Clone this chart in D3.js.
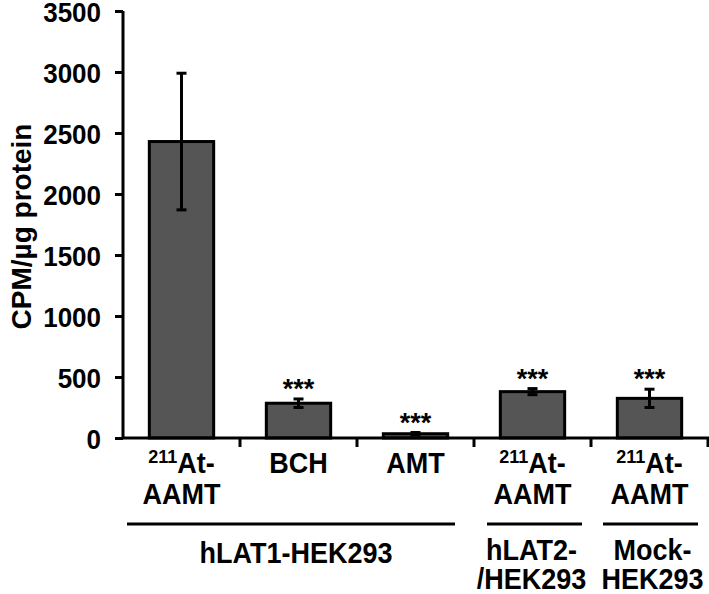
<!DOCTYPE html>
<html>
<head>
<meta charset="utf-8">
<script src="https://cdn.jsdelivr.net/npm/d3@7"></script>
<style>
  html, body { margin: 0; padding: 0; background: #fff; }
  svg text { font-family: "Liberation Sans", Arial, sans-serif; font-weight: bold; fill: #000; }
</style>
</head>
<body>
<svg id="chart" width="709" height="594"></svg>
<script>
// ---- data ----
const categories = ["c1", "c2", "c3", "c4", "c5"];
const labelSup = ["211", "", "", "211", "211"];
const labelLine1 = ["At-", "BCH", "AMT", "At-", "At-"];
const labelLine2 = ["AAMT", "", "", "AAMT", "AAMT"];
const means = [2430, 285, 35, 380, 325];
const errors = [560, 35, 10, 25, 75];
const significance = ["", "***", "***", "***", "***"];
const yTicks = [0, 500, 1000, 1500, 2000, 2500, 3000, 3500];
const groupNames = [["hLAT1-HEK293"], ["hLAT2-", "/HEK293"], ["Mock-", "HEK293"]];
const groupStart = [0, 3, 4];
const groupEnd = [2, 3, 4];
const yTitle = "CPM/µg protein";

// ---- layout ----
const svg = d3.select("#chart");
const x0 = 123, x1 = 708, yTop = 11, yBase = 438;
const FS = 27;
// text helper: slight vertical stretch like reference
function stretch(sel, cx, cy) {
  sel.attr("transform", `translate(${cx},${cy}) scale(1,1.06) translate(${-cx},${-cy})`);
}

const x = d3.scaleBand().domain(categories).range([x0, x1])
  .paddingInner(0.45).paddingOuter(0.225);
const y = d3.scaleLinear().domain([0, 3500]).range([yBase, yTop]);

// y axis
const yAxis = svg.append("g").attr("transform", `translate(${x0},0)`)
  .call(d3.axisLeft(y).tickValues(yTicks).tickSize(8).tickPadding(14).tickFormat(d3.format("d")));
yAxis.select(".domain").attr("stroke", "#000").attr("stroke-width", 3)
  .attr("d", `M0,${yTop}V${yBase}`);
yAxis.selectAll(".tick line").attr("stroke", "#000").attr("stroke-width", 3);
yAxis.selectAll(".tick text").style("font-size", "26px").attr("dy", "0.37em")
  .attr("transform", "scale(1,1.08)")
  .style("font-family", "'Liberation Sans', Arial, sans-serif").style("font-weight", "bold");

// y title
svg.append("text")
  .attr("transform", `translate(31,${(yTop + yBase) / 2 + 2}) rotate(-90)`)
  .attr("text-anchor", "middle")
  .style("font-size", "28px")
  .text(yTitle);

// bars
svg.append("g").selectAll("rect").data(categories).join("rect")
  .attr("x", d => x(d))
  .attr("width", x.bandwidth())
  .attr("y", (d, i) => y(means[i]))
  .attr("height", (d, i) => yBase - y(means[i]))
  .attr("fill", "#555555")
  .attr("stroke", "#000")
  .attr("stroke-width", 3);

// error bars
const eb = svg.append("g").attr("stroke", "#000").attr("stroke-width", 3);
categories.forEach((c, i) => {
  const cx = x(c) + x.bandwidth() / 2;
  const hi = y(means[i] + errors[i]), lo = y(means[i] - errors[i]);
  eb.append("line").attr("x1", cx).attr("x2", cx).attr("y1", hi).attr("y2", lo);
  eb.append("line").attr("x1", cx - 5).attr("x2", cx + 5).attr("y1", hi).attr("y2", hi);
  eb.append("line").attr("x1", cx - 5).attr("x2", cx + 5).attr("y1", lo).attr("y2", lo);
});

// significance stars
svg.append("g").selectAll("text").data(categories).join("text")
  .attr("x", d => x(d) + x.bandwidth() / 2)
  .attr("y", (d, i) => y(means[i] + errors[i]) - 1)
  .attr("text-anchor", "middle")
  .style("font-size", "27px")
  .text((d, i) => significance[i]);

// x axis line
svg.append("line").attr("x1", x0).attr("x2", x1 + 1).attr("y1", yBase).attr("y2", yBase)
  .attr("stroke", "#000").attr("stroke-width", 3);
// category boundary ticks
const bounds = categories.map(c => x(c) - x.step() * x.paddingInner() / 2).slice(1)
  .concat([x1]);
svg.append("g").selectAll("line").data(bounds).join("line")
  .attr("x1", d => d).attr("x2", d => d)
  .attr("y1", yBase).attr("y2", yBase + 9)
  .attr("stroke", "#000").attr("stroke-width", 3);

// category labels
categories.forEach((c, i) => {
  const cx = x(c) + x.bandwidth() / 2;
  const t = svg.append("text").attr("x", cx).attr("y", 473).attr("text-anchor", "middle")
    .style("font-size", FS + "px");
  stretch(t, cx, 473);
  if (labelSup[i]) {
    t.append("tspan").style("font-size", "18px").attr("dy", "-9").text(labelSup[i]);
    t.append("tspan").attr("dy", "9").text(labelLine1[i]);
  } else {
    t.text(labelLine1[i]);
  }
  if (labelLine2[i]) {
    const t2 = svg.append("text").attr("x", cx).attr("y", 504).attr("text-anchor", "middle")
      .style("font-size", FS + "px").text(labelLine2[i]);
    stretch(t2, cx, 504);
  }
});

// group lines and labels
const insetL = [4, 13, 12], insetR = [19, 9, 10];
groupNames.forEach((g, gi) => {
  const s = x(categories[groupStart[gi]]) - x.step() * x.paddingInner() / 2;
  const startX = gi === 0 ? x0 : s;
  const e = x(categories[groupEnd[gi]]) + x.bandwidth() + x.step() * x.paddingInner() / 2;
  const lx1 = startX + insetL[gi], lx2 = e - insetR[gi];
  svg.append("line").attr("x1", lx1).attr("x2", lx2).attr("y1", 524).attr("y2", 524)
    .attr("stroke", "#000").attr("stroke-width", 3);
  const cx = (lx1 + lx2) / 2 + (gi === 0 ? 5 : gi === 1 ? -3 : 2);
  if (g.length === 1) {
    const t = svg.append("text").attr("x", cx).attr("y", 563).attr("text-anchor", "middle")
      .style("font-size", FS + "px").text(g[0]);
    stretch(t, cx, 563);
  } else {
    g.forEach((line, li) => {
      const yy = 560 + li * 29;
      const t = svg.append("text").attr("x", cx).attr("y", yy).attr("text-anchor", "middle")
        .style("font-size", FS + "px").text(line);
      stretch(t, cx, yy);
    });
  }
});
</script>
</body>
</html>
